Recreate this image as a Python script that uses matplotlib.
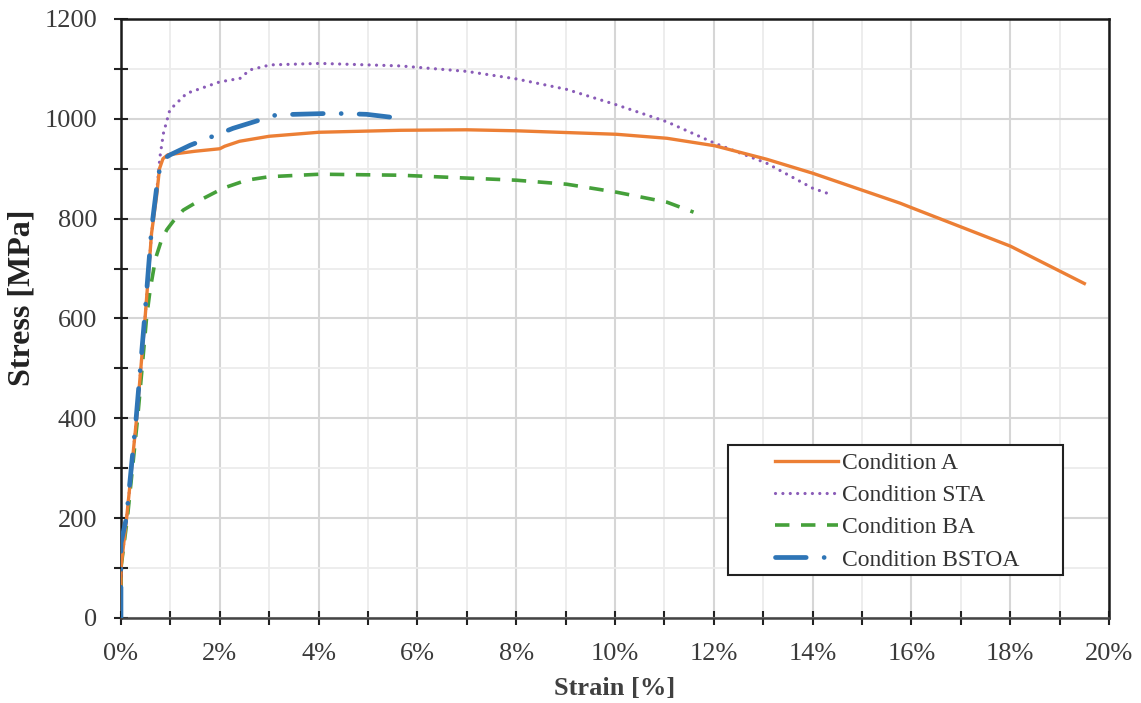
import matplotlib
matplotlib.use("Agg")
import matplotlib.pyplot as plt
from matplotlib.ticker import MultipleLocator, FuncFormatter
from matplotlib.patches import Rectangle

# Data (strain in %, stress in MPa)
a_strain = [0.0, 0.0, 0.115, 0.32, 0.49, 0.62, 0.72, 0.78, 0.85, 0.95, 1.5, 2.0, 2.1, 2.4, 3.0, 4.0,
            5.65, 7.0, 8.0, 10.03, 11.05, 12.02, 13.07, 14.0, 15.77, 16.0, 18.0, 19.5]
a_stress = [0, 100, 200, 403, 603, 771, 844, 900, 920, 928, 935, 940, 945, 955, 965, 973,
            977, 978, 976, 969, 961, 946, 919, 891, 831, 822, 745, 670]

sta_strain = [0.0, 0.0, 0.115, 0.32, 0.49, 0.62, 0.72, 0.79, 0.86, 0.99, 1.33, 2.0, 2.41, 2.61, 3.02,
              4.03, 5.65, 7.0, 8.0, 9.02, 10.03, 11.05, 12.02, 13.07, 14.0, 14.35]
sta_stress = [0, 100, 200, 403, 603, 771, 850, 924, 971, 1018, 1051, 1074, 1081, 1098, 1108,
              1111, 1106, 1095, 1080, 1059, 1028, 994, 951, 911, 861, 849]

ba_strain = [0.0, 0.0, 0.13, 0.34, 0.52, 0.59, 0.70, 0.82, 0.93, 1.06, 1.26, 1.6, 2.07, 2.54, 3.0,
             4.03, 5.65, 8.0, 9.02, 10.03, 11.05, 11.59]
ba_stress = [0, 100, 200, 403, 603, 657, 720, 757, 778, 795, 817, 837, 861, 877, 884,
             889, 887, 877, 869, 853, 833, 813]

bstoa_strain = [0.0, 0.0, 0.11, 0.31, 0.48, 0.62, 0.72, 0.80, 0.9, 1.0, 1.4, 2.27, 3.15, 4.3, 4.97, 5.65, 5.7]
bstoa_stress = [0, 150, 200, 403, 603, 780, 860, 910, 922, 928, 947, 981, 1008, 1011, 1009, 1001, 1000]

labels = ["Condition A", "Condition STA", "Condition BA", "Condition BSTOA"]
x_ticks = [0, 2, 4, 6, 8, 10, 12, 14, 16, 18, 20]
y_ticks = [0, 200, 400, 600, 800, 1000, 1200]

serif = ["Liberation Serif", "DejaVu Serif"]
plt.rcParams['font.family'] = serif

fig = plt.figure(figsize=(11.41, 7.03), dpi=100)
ax = fig.add_axes([0.106, 0.121, 0.866, 0.852])

ax.plot(a_strain, a_stress, color="#EC7F35", lw=2.4, ls="-", label=labels[0], zorder=4)
ax.plot(sta_strain, sta_stress, color="#8A5CB8", lw=2.3, ls=(0, (0.01, 2.3)),
        dash_capstyle="round", label=labels[1], zorder=3)
ax.plot(ba_strain, ba_stress, color="#45A03A", lw=2.6, ls=(0, (4, 3.2)), label=labels[2], zorder=3)
ax.plot(bstoa_strain, bstoa_stress, color="#2E75B6", lw=3.4, ls=(0, (6.5, 3.8, 0.01, 3.8)),
        dash_capstyle="round", solid_capstyle="round", label=labels[3], zorder=5)

ax.set_xlim(0, 20)
ax.set_ylim(0, 1200)
ax.set_xticks(x_ticks)
ax.set_yticks(y_ticks)
ax.xaxis.set_minor_locator(MultipleLocator(1))
ax.yaxis.set_minor_locator(MultipleLocator(100))
ax.xaxis.set_major_formatter(FuncFormatter(lambda v, p: f"{int(round(v))}%"))

ax.grid(which="major", color="#d6d6d6", lw=1.5, zorder=0)
ax.grid(which="minor", color="#ececec", lw=1.3, zorder=0)
ax.set_axisbelow(True)

for s in ["left", "top", "right"]:
    ax.spines[s].set_color("#1a1a1a")
    ax.spines[s].set_linewidth(1.8)
ax.spines["bottom"].set_color("#444444")
ax.spines["bottom"].set_linewidth(1.8)

ax.tick_params(which="both", direction="inout", length=10, width=1.5, color="#222222",
               labelsize=19, labelcolor="#3a3a3a")
ax.tick_params(which="both", top=False, right=False)
ax.tick_params(axis="x", pad=13)
ax.tick_params(axis="y", pad=12)

ax.set_xlabel("Strain [%]", fontsize=19, fontweight="bold", color="#404040", va="center")
ax.xaxis.set_label_coords(0.5, -0.1185)
ax.set_ylabel("Stress [MPa]", fontsize=23, fontweight="bold", color="#222222", va="center")
ax.yaxis.set_label_coords(-0.100, 0.535)

# legend box (frame drawn separately to match the reference padding)
box = Rectangle((0.614, 0.072), 0.339, 0.217, transform=ax.transAxes, facecolor="white",
                edgecolor="#222222", lw=1.5, zorder=6)
ax.add_patch(box)
leg = ax.legend(loc="upper left", bbox_to_anchor=(0.662, 0.276),
                fontsize=17, frameon=False, handlelength=2.65, labelspacing=0.45,
                borderpad=0.0, handletextpad=0.2, borderaxespad=0)
leg.set_zorder(7)
for t in leg.get_texts():
    t.set_color("#333333")

fig.savefig("out.png", dpi=100)
